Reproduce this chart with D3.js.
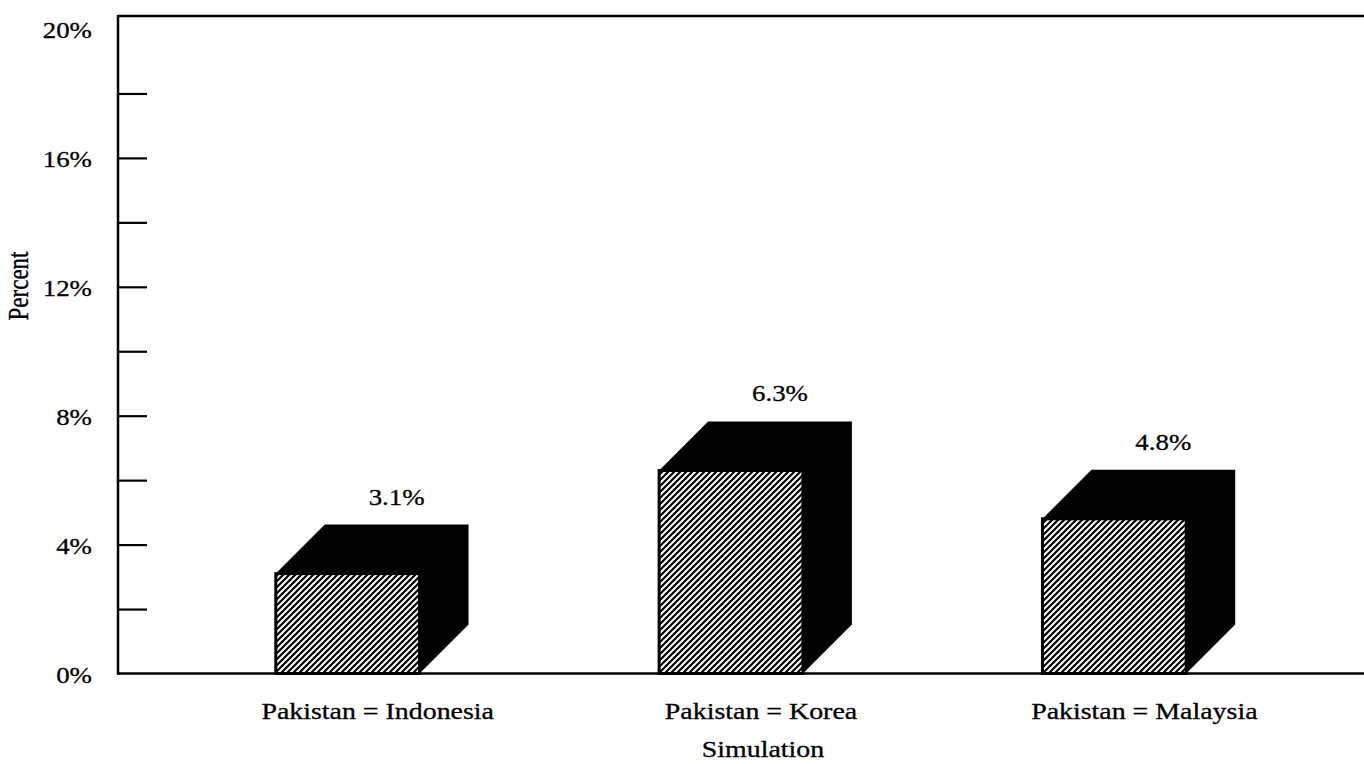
<!DOCTYPE html>
<html>
<head>
<meta charset="utf-8">
<script src="https://cdn.jsdelivr.net/npm/d3@7"></script>
<style>
  html, body { margin: 0; padding: 0; background: #fff; }
  svg { display: block; }
  text { font-family: "Liberation Serif", "Times New Roman", serif; fill: #000;
         stroke: #000; stroke-width: 0.3px; }
</style>
</head>
<body>
<svg id="chart" width="1364" height="764"></svg>
<script>
// Simulated outcomes
const categories = ["Pakistan = Indonesia", "Pakistan = Korea", "Pakistan = Malaysia"];
const values = [3.1, 6.3, 4.8];
const valueLabels = ["3.1%", "6.3%", "4.8%"];
const tickValues = [0, 2, 4, 6, 8, 10, 12, 14, 16, 18, 20];
const tickLabels = ["0%", "", "4%", "", "8%", "", "12%", "", "16%", "", "20%"];
const yTitle = "Percent";
const xTitle = "Simulation";

const W = 1364, H = 764;
const axisX = 118, frameTop = 16;
const depth = 49;          // offset of the extruded back face
const stretch = 1.24;      // wide set type
const numStretch = 1.12;

const svg = d3.select("#chart");

const y = d3.scaleLinear().domain([0, 20]).range([673.5, 29]);
const x = d3.scaleBand()
  .domain(categories)
  .range([156, 1306])
  .paddingInner(0.625)
  .paddingOuter(0.3125);

// hatch pattern for the front faces
const defs = svg.append("defs");
const pat = defs.append("pattern")
  .attr("id", "hatch")
  .attr("patternUnits", "userSpaceOnUse")
  .attr("width", 6).attr("height", 6);
pat.append("rect").attr("width", 6).attr("height", 6).attr("fill", "#fff");
pat.append("path")
  .attr("d", "M-1,7 L7,-1 M-4,4 L4,-4 M2,10 L10,2")
  .attr("stroke", "#000").attr("stroke-width", 2.2);

function stretchedText(sel, px, py, sx, extra) {
  return sel.attr("transform", `translate(${px},${py}) scale(${sx},1)` + (extra || ""));
}

// frame: top rule, left axis and baseline
svg.append("line")
  .attr("x1", axisX).attr("x2", W)
  .attr("y1", frameTop).attr("y2", frameTop)
  .attr("stroke", "#000").attr("stroke-width", 2.5);
svg.append("line")
  .attr("x1", axisX).attr("x2", axisX)
  .attr("y1", frameTop - 1).attr("y2", y(0) + 1)
  .attr("stroke", "#000").attr("stroke-width", 2.5);

// y axis ticks (drawn inward) and labels
const axis = d3.axisLeft(y)
  .tickValues(tickValues)
  .tickSizeInner(-29)
  .tickSizeOuter(0)
  .tickPadding(0)
  .tickFormat((d, i) => tickLabels[i]);
const gAxis = svg.append("g").attr("transform", `translate(${axisX},0)`).call(axis);
gAxis.select(".domain").remove();
gAxis.selectAll(".tick line")
  .attr("stroke", "#000").attr("stroke-width", 2.2)
  .attr("display", d => (d === 20 || d === 0) ? "none" : null);
gAxis.selectAll(".tick text").remove();
gAxis.selectAll(".tick").each(function(d, i) {
  if (!tickLabels[i]) return;
  stretchedText(d3.select(this).append("text"), -26, 0, numStretch)
    .attr("text-anchor", "end")
    .attr("dy", "0.36em")
    .attr("font-size", 24)
    .text(tickLabels[i]);
});

// bars
const bars = svg.append("g").selectAll("g.bar")
  .data(categories.map((c, i) => ({ c, v: values[i], label: valueLabels[i] })))
  .join("g").attr("class", "bar");

bars.append("path")
  .attr("fill", "#000")
  .attr("d", d => {
    const x0 = x(d.c), x1 = x0 + x.bandwidth();
    const yt = y(d.v), yb = y(0);
    return `M${x0},${yt} L${x0 + depth},${yt - depth} L${x1 + depth},${yt - depth} ` +
           `L${x1 + depth},${yb - depth} L${x1},${yb} L${x1},${yt} Z`;
  });

bars.append("rect")
  .attr("x", d => x(d.c))
  .attr("y", d => y(d.v))
  .attr("width", x.bandwidth())
  .attr("height", d => y(0) - y(d.v))
  .attr("fill", "url(#hatch)")
  .attr("stroke", "#000")
  .attr("stroke-width", 3);

bars.each(function(d) {
  stretchedText(d3.select(this).append("text"),
      x(d.c) + x.bandwidth() / 2 + depth, y(d.v) - depth - 20, numStretch)
    .attr("text-anchor", "middle")
    .attr("font-size", 24)
    .text(d.label);
});

// baseline over the bar bottoms
svg.append("line")
  .attr("x1", axisX - 1).attr("x2", W)
  .attr("y1", y(0)).attr("y2", y(0))
  .attr("stroke", "#000").attr("stroke-width", 2.5);

// category labels
svg.append("g").selectAll("text")
  .data(categories)
  .join("text")
  .each(function(c) {
    stretchedText(d3.select(this), x(c) + x.bandwidth() / 2 + 30, 719, stretch);
  })
  .attr("text-anchor", "middle")
  .attr("font-size", 22.5)
  .text(c => c);

// axis titles
stretchedText(svg.append("text"), 763, 757, stretch)
  .attr("text-anchor", "middle")
  .attr("font-size", 22.5)
  .text(xTitle);

stretchedText(svg.append("text"), 28, 286, stretch, " rotate(-90)")
  .attr("text-anchor", "middle")
  .attr("font-size", 23)
  .text(yTitle);
</script>
</body>
</html>
